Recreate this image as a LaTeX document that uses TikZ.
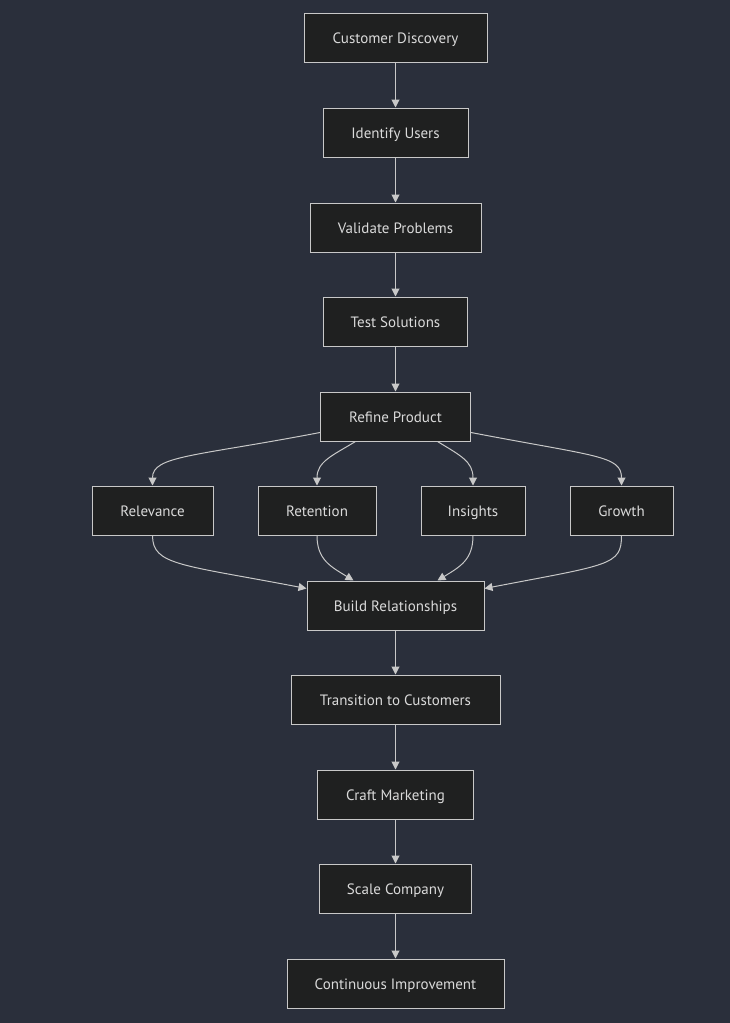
\documentclass[tikz,border=0pt]{standalone}
\usepackage{fontspec}
\setmainfont{PT Sans}
\usetikzlibrary{arrows.meta}
\definecolor{bg}{HTML}{2A2F3B}
\definecolor{nodefill}{HTML}{1F2020}
\definecolor{edge}{HTML}{C8C8C8}
\definecolor{txt}{HTML}{DADADA}
\tikzset{
  box/.style={draw=edge, fill=nodefill, line width=1pt, text=txt, font=\fontsize{15}{17}\selectfont,
    minimum height=49pt, inner sep=0pt, anchor=center, text height=12pt, text depth=1pt},
  arr/.style={draw=edge, line width=1pt, -{Triangle[length=8pt,width=8pt]}}
}
\begin{document}
\begin{tikzpicture}[x=1pt,y=-1pt]
\fill[bg] (0,0) rectangle (730,1023);
\useasboundingbox (0,0) rectangle (730,1023);
\node[box, minimum width=183pt] (cd) at (395.5,38) {Customer Discovery};
\node[box, minimum width=145pt] (iu) at (395.5,132.5) {Identify Users};
\node[box, minimum width=171pt] (vp) at (395.5,227.5) {Validate Problems};
\node[box, minimum width=144pt] (ts) at (395.5,321.5) {Test Solutions};
\node[box, minimum width=150pt] (rp) at (395.5,416.5) {Refine Product};
\node[box, minimum width=121pt] (rel) at (152.5,510.5) {Relevance};
\node[box, minimum width=118pt] (ret) at (317,510.5) {Retention};
\node[box, minimum width=104pt] (ins) at (473,510.5) {Insights};
\node[box, minimum width=103pt] (gro) at (621.5,510.5) {Growth};
\node[box, minimum width=177pt] (br) at (395.5,605.5) {Build Relationships};
\node[box, minimum width=209pt] (tc) at (395.5,699.5) {Transition to Customers};
\node[box, minimum width=156pt] (cm) at (395.5,794.5) {Craft Marketing};
\node[box, minimum width=152pt] (sc) at (395.5,888.5) {Scale Company};
\node[box, minimum width=217pt] (ci) at (395.5,983.5) {Continuous Improvement};

\draw[arr] (cd) -- (iu);
\draw[arr] (iu) -- (vp);
\draw[arr] (vp) -- (ts);
\draw[arr] (ts) -- (rp);
\draw[arr] (br) -- (tc);
\draw[arr] (tc) -- (cm);
\draw[arr] (cm) -- (sc);
\draw[arr] (sc) -- (ci);

\draw[arr] ([yshift=9pt]rp.south west) .. controls +(-125,24) and +(0,-30) .. (rel.north);
\draw[arr] ([xshift=-40pt]rp.south) .. controls +(-23,14) and +(0,-24) .. (ret.north);
\draw[arr] ([xshift=42pt]rp.south) .. controls +(23,14) and +(0,-24) .. (ins.north);
\draw[arr] ([yshift=9pt]rp.south east) .. controls +(125,24) and +(0,-30) .. (gro.north);

\draw[arr] (rel.south) .. controls +(0,30) and +(-125,-24) .. ([yshift=-8pt]br.north west);
\draw[arr] (ret.south) .. controls +(0,24) and +(-23,-14) .. ([xshift=-42pt]br.north);
\draw[arr] (ins.south) .. controls +(0,24) and +(23,-14) .. ([xshift=42pt]br.north);
\draw[arr] (gro.south) .. controls +(0,30) and +(125,-24) .. ([yshift=-8pt]br.north east);
\end{tikzpicture}
\end{document}
